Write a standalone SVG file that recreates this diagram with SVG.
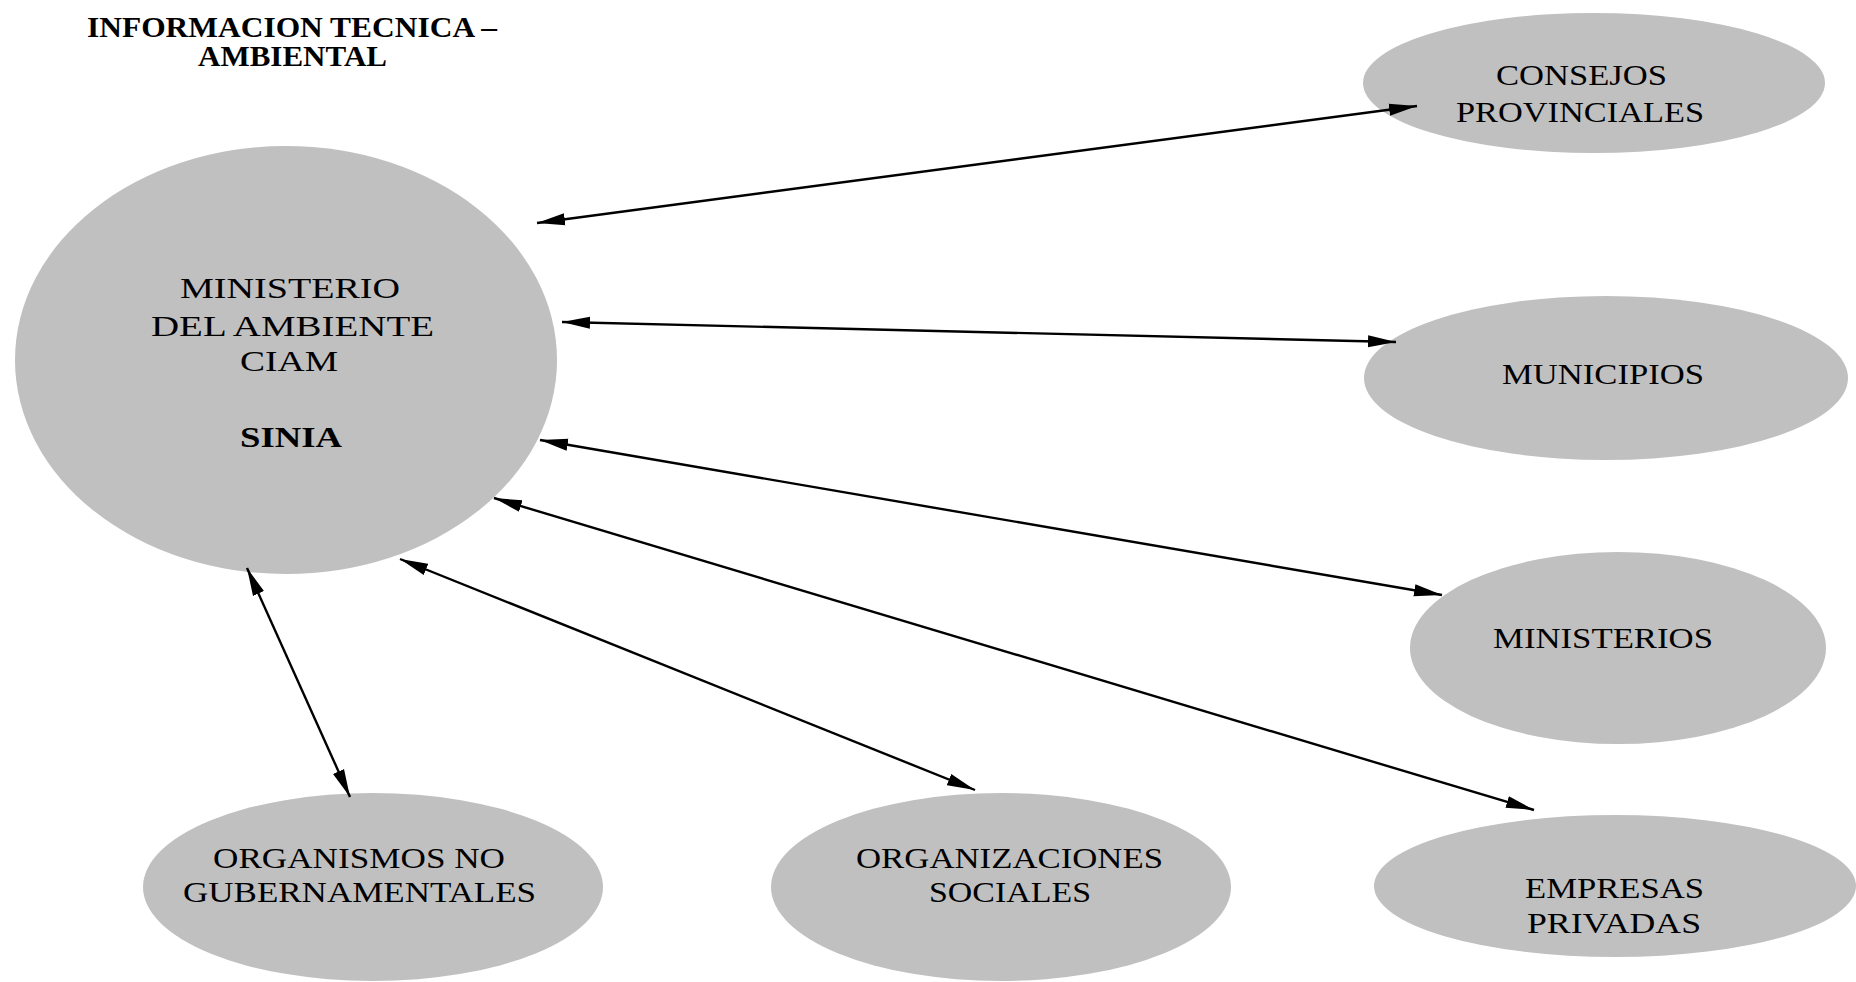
<svg xmlns="http://www.w3.org/2000/svg" width="1856" height="982" viewBox="0 0 1856 982">
<style>
.node{fill:#c0c0c0}
.t{font-family:"Liberation Serif","Times New Roman",serif;font-size:29px;fill:#000;text-anchor:start}
.b{font-weight:bold}
.c{stroke:#000;stroke-width:2.4;fill:none;marker-start:url(#ah);marker-end:url(#ah)}
</style>
<defs>
<marker id="ah" markerUnits="userSpaceOnUse" markerWidth="30" markerHeight="14" refX="28" refY="6" orient="auto-start-reverse" viewBox="0 0 30 12">
<path d="M0,0 L28,6 L0,12 z" fill="#000"/>
</marker>
</defs>
<rect width="1856" height="982" fill="#fff"/>
<g id="title">
<text class="t b" x="87" y="37" textLength="410" lengthAdjust="spacingAndGlyphs">INFORMACION TECNICA –</text>
<text class="t b" x="198" y="66" textLength="189" lengthAdjust="spacingAndGlyphs">AMBIENTAL</text>
</g>
<g id="ministerio">
<ellipse class="node" cx="286" cy="360" rx="271" ry="214"/>
<text class="t" x="180" y="298" textLength="220" lengthAdjust="spacingAndGlyphs">MINISTERIO</text>
<text class="t" x="151" y="336" textLength="283" lengthAdjust="spacingAndGlyphs">DEL AMBIENTE</text>
<text class="t" x="240" y="371" textLength="98" lengthAdjust="spacingAndGlyphs">CIAM</text>
<text class="t b" x="240" y="447" textLength="102" lengthAdjust="spacingAndGlyphs">SINIA</text>
</g>
<g id="consejos">
<ellipse class="node" cx="1594" cy="83" rx="231" ry="70"/>
<text class="t" x="1496" y="85" textLength="171" lengthAdjust="spacingAndGlyphs">CONSEJOS</text>
<text class="t" x="1456" y="122" textLength="248" lengthAdjust="spacingAndGlyphs">PROVINCIALES</text>
</g>
<g id="municipios">
<ellipse class="node" cx="1606" cy="378" rx="242" ry="82"/>
<text class="t" x="1502" y="384" textLength="202" lengthAdjust="spacingAndGlyphs">MUNICIPIOS</text>
</g>
<g id="ministerios">
<ellipse class="node" cx="1618" cy="648" rx="208" ry="96"/>
<text class="t" x="1493" y="648" textLength="220" lengthAdjust="spacingAndGlyphs">MINISTERIOS</text>
</g>
<g id="empresas">
<ellipse class="node" cx="1615" cy="886" rx="241" ry="71"/>
<text class="t" x="1525" y="898" textLength="179" lengthAdjust="spacingAndGlyphs">EMPRESAS</text>
<text class="t" x="1527" y="933" textLength="174" lengthAdjust="spacingAndGlyphs">PRIVADAS</text>
</g>
<g id="ong">
<ellipse class="node" cx="373" cy="887" rx="230" ry="94"/>
<text class="t" x="213" y="868" textLength="292" lengthAdjust="spacingAndGlyphs">ORGANISMOS NO</text>
<text class="t" x="183" y="902" textLength="353" lengthAdjust="spacingAndGlyphs">GUBERNAMENTALES</text>
</g>
<g id="organizaciones">
<ellipse class="node" cx="1001" cy="887" rx="230" ry="94"/>
<text class="t" x="856" y="868" textLength="307" lengthAdjust="spacingAndGlyphs">ORGANIZACIONES</text>
<text class="t" x="929" y="902" textLength="162" lengthAdjust="spacingAndGlyphs">SOCIALES</text>
</g>
<g id="connectors">
<line class="c" x1="537" y1="223" x2="1417" y2="106"/>
<line class="c" x1="562" y1="322" x2="1396" y2="342"/>
<line class="c" x1="540" y1="440" x2="1442" y2="595"/>
<line class="c" x1="494" y1="498" x2="1534" y2="810"/>
<line class="c" x1="400" y1="559" x2="975" y2="790"/>
<line class="c" x1="247" y1="568" x2="350" y2="797"/>
</g>
</svg>
